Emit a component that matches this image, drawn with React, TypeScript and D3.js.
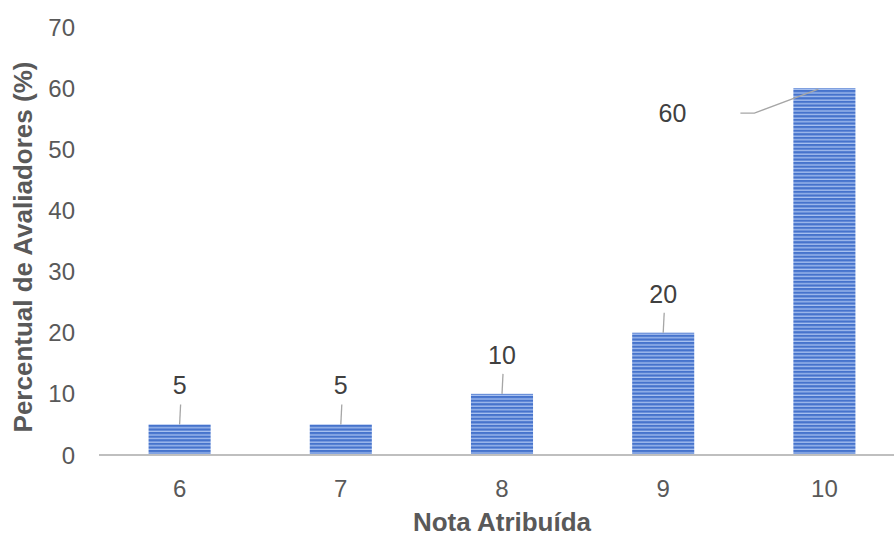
import React from 'react';
import { scaleBand, scaleLinear } from 'd3';

const notas = ['6', '7', '8', '9', '10'];
const percentuais = [5, 5, 10, 20, 60];
const yTicks = [0, 10, 20, 30, 40, 50, 60, 70];

const width = 894;
const height = 538;
const font = '"Liberation Sans", Arial, sans-serif';

const App = () => {
  const x = scaleBand<string>().domain(notas).range([99, 905]).paddingInner(0.615).paddingOuter(0.3075);
  const y = scaleLinear().domain([0, 70]).range([455, 27]);
  const bw = x.bandwidth();

  return (
    <svg width={width} height={height} style={{ position: 'absolute', left: 0, top: 0, background: '#fff' }}>
      <defs>
        <pattern id="stripes" patternUnits="userSpaceOnUse" width={8} height={3.6}>
          <rect x={0} y={0} width={8} height={3.6} fill="#4673cc" />
          <rect x={0} y={2.3} width={8} height={1.3} fill="#a8c1f0" />
        </pattern>
      </defs>

      {/* y tick labels */}
      {yTicks.map(t => (
        <text key={t} x={75} y={y(t) + 8.5} textAnchor="end" fontFamily={font} fontSize={24} fill="#595959">
          {t}
        </text>
      ))}

      {/* bars */}
      {notas.map((n, i) => (
        <rect key={n} x={x(n)} y={y(percentuais[i])} width={bw} height={y(0) - y(percentuais[i])} fill="url(#stripes)" />
      ))}

      {/* x axis line */}
      <line x1={99} x2={905} y1={y(0)} y2={y(0)} stroke="#bfbfbf" strokeWidth={2} />

      {/* x tick labels */}
      {notas.map(n => (
        <text key={n} x={(x(n) ?? 0) + bw / 2} y={y(0) + 42} textAnchor="middle" fontFamily={font} fontSize={24} fill="#595959">
          {n}
        </text>
      ))}

      {/* data labels with leader lines */}
      {notas.map((n, i) => {
        const v = percentuais[i];
        const cx = (x(n) ?? 0) + bw / 2;
        const top = y(v);
        if (v === 60) {
          return (
            <g key={n}>
              <polyline points={`${cx - 84},${top + 25} ${cx - 70},${top + 25} ${cx - 6},${top + 1}`} fill="none" stroke="#a6a6a6" strokeWidth={1.3} />
              <text x={cx - 152} y={top + 34} textAnchor="middle" fontFamily={font} fontSize={25} fill="#404040">{v}</text>
            </g>
          );
        }
        return (
          <g key={n}>
            <line x1={cx + 1} x2={cx} y1={top - 20} y2={top} stroke="#a6a6a6" strokeWidth={1.3} />
            <text x={cx} y={top - 30} textAnchor="middle" fontFamily={font} fontSize={25} fill="#404040">{v}</text>
          </g>
        );
      })}

      {/* axis titles */}
      <text transform={`translate(32,${(y(0) + y(70)) / 2 + 6}) rotate(-90)`} textAnchor="middle" fontFamily={font} fontSize={26} fontWeight="bold" fill="#595959">
        Percentual de Avaliadores (%)
      </text>
      <text x={502} y={531} textAnchor="middle" fontFamily={font} fontSize={26} fontWeight="bold" fill="#595959">
        Nota Atribuída
      </text>
    </svg>
  );
};

export default App;
